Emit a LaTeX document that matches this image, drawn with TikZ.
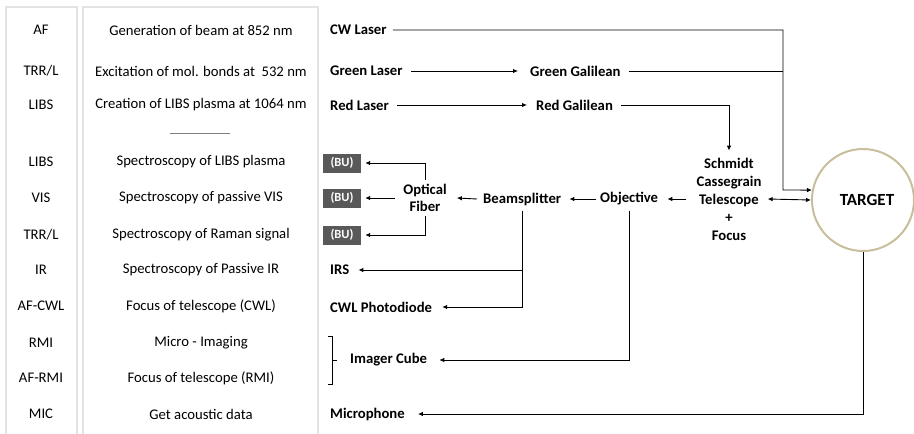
\documentclass[tikz,border=0pt]{standalone}
\usepackage{fontspec}
\setmainfont{Carlito}
\usetikzlibrary{arrows.meta}
\definecolor{tancol}{HTML}{C8BE9C}
\definecolor{boxgray}{HTML}{E3E3E3}
\definecolor{bugray}{HTML}{595959}
\begin{document}
\begin{tikzpicture}[x=1pt,y=-1pt,
  every node/.style={font=\fontsize{14.7}{17}\selectfont, inner sep=0pt},
  lbl/.style={font=\fontsize{14.7}{17}\selectfont\bfseries, anchor=west},
  cen/.style={font=\fontsize{14.7}{18}\selectfont\bfseries, align=center},
  arr/.style={-{Latex[length=5pt,width=4.5pt]}, line width=0.9pt},
  darr/.style={{Latex[length=5pt,width=4.5pt]}-{Latex[length=5pt,width=4.5pt]}, line width=0.9pt},
  ln/.style={line width=0.9pt},
  colbox/.style={draw=boxgray, line width=1.5pt},
  bu/.style={fill=bugray, text=white, font=\fontsize{12.5}{14}\selectfont\bfseries, minimum width=38pt, minimum height=19pt},
]
\useasboundingbox (0,0) rectangle (914,434);
% column boxes
\draw[colbox] (6,440) -- (6,7) -- (77,7) -- (77,440);
\draw[colbox] (83,440) -- (83,7) -- (318,7) -- (318,440);
% left column
\node (a1) at (41,30) {AF};
\node (a2) at (41,71) {TRR/L};
\node (a3) at (41,105) {LIBS};
\node (a4) at (41,162) {LIBS};
\node (a5) at (41,198) {VIS};
\node (a6) at (41,235) {TRR/L};
\node (a7) at (41,270) {IR};
\node (a8) at (41,306) {AF-CWL};
\node (a9) at (41,343) {RMI};
\node (a10) at (41,378) {AF-RMI};
\node (a11) at (41,414) {MIC};
% middle column
\node (b1) at (201,30) {Generation of beam at 852 nm};
\node (b2) at (201,71) {Excitation of mol. bonds at \ 532 nm};
\node (b3) at (201,105) {Creation of LIBS plasma at 1064 nm};
\draw[line width=0.9pt, gray] (170,133) -- (230,133);
\node (b4) at (201,162) {Spectroscopy of LIBS plasma};
\node (b5) at (201,198) {Spectroscopy of passive VIS};
\node (b6) at (201,235) {Spectroscopy of Raman signal};
\node (b7) at (201,270) {Spectroscopy of Passive IR};
\node (b8) at (201,306) {Focus of telescope (CWL)};
\node (b9) at (201,343) {Micro - Imaging};
\node (b10) at (201,378) {Focus of telescope (RMI)};
\node (b11) at (201,414) {Get acoustic data};
% right part nodes
\node[lbl] (cw) at (330,30) {CW Laser};
\node[lbl] (gl) at (330,71) {Green Laser};
\node[lbl] (gg) at (530,71) {Green Galilean};
\node[lbl] (rl) at (330,105) {Red Laser};
\node[lbl] (rg) at (536,105) {Red Galilean};
\node[cen] (sct) at (729,199) {Schmidt\\Cassegrain\\Telescope\\+\\Focus};
\node[circle, draw=tancol, line width=2pt, minimum size=102pt] (tgt) at (863,200) {};
\node[font=\fontsize{17}{19}\selectfont\bfseries] (tgtl) at (867,200) {TARGET};
\node[lbl] (obj) at (600,199) {Objective};
\node[lbl] (bs) at (483,199) {Beamsplitter};
\node[cen, font=\fontsize{14.7}{17}\selectfont\bfseries] (of) at (425,198) {Optical\\Fiber};
\node[bu] (bu1) at (342,163) {(BU)};
\node[bu] (bu2) at (342,198) {(BU)};
\node[bu] (bu3) at (342,235) {(BU)};
\node[lbl] (irs) at (330,270) {IRS};
\node[lbl] (cwl) at (330,307) {CWL Photodiode};
\node[lbl] (ic) at (350,360) {Imager Cube};
\node[lbl] (mic) at (330,414) {Microphone};
% connectors
\coordinate (j1) at (783,190);
\draw[arr] ([xshift=6pt]cw.east) -| (j1) -- (tgt.169);
\draw[ln] ([xshift=8pt]gg.east) -- (gg.east -| j1);
\draw[arr] ([xshift=8pt]gl.east) -- ([xshift=-12pt]gg.west);
\draw[arr] ([xshift=8pt]rl.east) -- ([xshift=-9pt]rg.west);
\draw[arr] ([xshift=8pt]rg.east) -| ([yshift=7pt]sct.north);
\draw[darr] ([xshift=6pt]sct.east) -- (tgt.west);
\draw[arr] ([xshift=-10pt]sct.west) -- ([xshift=9pt]obj.east);
\draw[arr] ([xshift=-4pt]obj.west) -- ([xshift=8pt]bs.east);
\draw[arr] ([xshift=-6pt]bs.west) -- ([xshift=10pt]of.east);
\draw[arr] ([yshift=4pt]of.north) |- ([xshift=4pt]bu1.east);
\draw[arr] ([xshift=-8pt]of.west) -- ([xshift=4pt]bu2.east);
\draw[arr] ([yshift=-4pt]of.south) |- ([xshift=4pt]bu3.east);
\draw[arr] ([yshift=-5pt]bs.south) |- ([xshift=10pt]cwl.east);
\draw[arr] (bs.south |- irs) -- ([xshift=9pt]irs.east);
\draw[arr] ([yshift=-5pt]obj.south) |- ([xshift=12pt]ic.east);
\draw[arr] (tgt.south) |- ([xshift=13pt]mic.east);
% bracket
\draw[ln] (328,336) -- (332,336) -- (332,384) -- (328,384);
\draw[ln] (332,360) -- (337,360);
\end{tikzpicture}
\end{document}
